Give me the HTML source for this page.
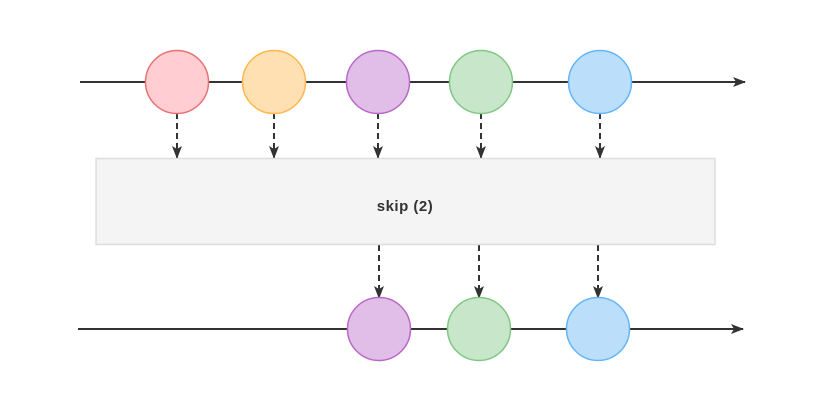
<!DOCTYPE html>
<html><head><style>html,body{margin:0;padding:0;background:#fff}</style></head><body>
<svg width="835" height="402" viewBox="0 0 835 402" xmlns="http://www.w3.org/2000/svg">
<defs><marker id="a" markerWidth="14" markerHeight="14" refX="12" refY="7" orient="auto" markerUnits="userSpaceOnUse"><path d="M0,2 L13,7 L0,12 L3,7 Z" fill="#333"/></marker></defs>
<g stroke="#333" stroke-width="2" fill="none">
<line x1="80" y1="82" x2="745" y2="82" marker-end="url(#a)"/>
<line x1="78" y1="329" x2="743" y2="329" marker-end="url(#a)"/>
</g>
<g stroke="#333" stroke-width="2" stroke-dasharray="6,4" fill="none">
<line x1="177" y1="113" x2="177" y2="158" marker-end="url(#a)"/>
<line x1="274" y1="113" x2="274" y2="158" marker-end="url(#a)"/>
<line x1="378" y1="113" x2="378" y2="158" marker-end="url(#a)"/>
<line x1="481" y1="113" x2="481" y2="158" marker-end="url(#a)"/>
<line x1="600" y1="113" x2="600" y2="158" marker-end="url(#a)"/>
<line x1="379" y1="245" x2="379" y2="298" marker-end="url(#a)"/>
<line x1="479" y1="245" x2="479" y2="298" marker-end="url(#a)"/>
<line x1="598" y1="245" x2="598" y2="298" marker-end="url(#a)"/>
</g>
<rect x="96" y="158.5" width="619" height="86" fill="#f4f4f4" stroke="#dddddd" stroke-width="1.5"/>
<text x="405" y="211" font-family="Liberation Sans, sans-serif" font-weight="bold" font-size="15" letter-spacing="0.5" fill="#333" text-anchor="middle">skip (2)</text>
<g stroke-width="1.5">
<circle cx="177" cy="82" r="31.5" fill="#ffcdd2" stroke="#e57373"/>
<circle cx="274" cy="82" r="31.5" fill="#ffe0b2" stroke="#ffb74d"/>
<circle cx="378" cy="82" r="31.5" fill="#e1bee7" stroke="#ba68c8"/>
<circle cx="481" cy="82" r="31.5" fill="#c8e6c9" stroke="#81c784"/>
<circle cx="600" cy="82" r="31.5" fill="#bbdefb" stroke="#64b5f6"/>
<circle cx="379" cy="329" r="31.5" fill="#e1bee7" stroke="#ba68c8"/>
<circle cx="479" cy="329" r="31.5" fill="#c8e6c9" stroke="#81c784"/>
<circle cx="598" cy="329" r="31.5" fill="#bbdefb" stroke="#64b5f6"/>
</g>
</svg>
</body></html>
